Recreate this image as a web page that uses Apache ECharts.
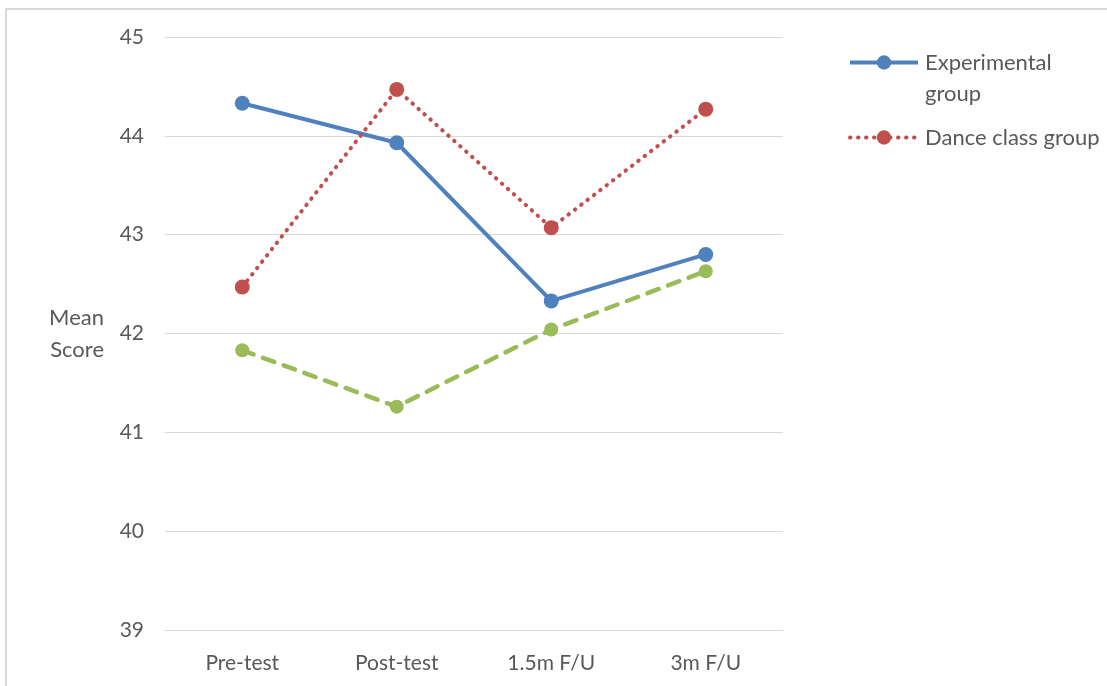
<!DOCTYPE html>
<html>
<head>
<meta charset="utf-8">
<script src="https://cdn.jsdelivr.net/npm/echarts@6/dist/echarts.min.js"></script>
<style>
  html, body { margin: 0; padding: 0; background: #fff; }
  #chart { width: 1107px; height: 686px; }
</style>
</head>
<body>
<div id="chart"></div>
<script>
// Time points and group means
const categories = ['Pre-test', 'Post-test', '1.5m F/U', '3m F/U'];
const experimental = [44.33, 43.93, 42.33, 42.80];
const danceClass = [42.47, 44.47, 43.07, 44.27];
const controlGroup = [41.83, 41.26, 42.04, 42.63];
const yTicks = [39, 40, 41, 42, 43, 44, 45];

const FONT = 'Lato';
const TEXT = '#595959';

const chart = echarts.init(document.getElementById('chart'));
chart.setOption({
  animation: false,
  textStyle: { fontFamily: FONT },
  graphic: [
    { type: 'rect', shape: { x: 5, y: 8, width: 1102, height: 2 }, style: { fill: '#d9d9d9' } },
    { type: 'rect', shape: { x: 5, y: 8, width: 2, height: 678 }, style: { fill: '#d9d9d9' } }
  ],
  grid: { left: 165, right: 324, top: 37, bottom: 56 },
  legend: [
    {
      data: ['Experimental group'],
      left: 848, top: 16, padding: 0,
      orient: 'vertical',
      itemWidth: 68, itemHeight: 18, itemGap: 0,
      lineStyle: { width: 4 },
      // blank leading line keeps the icon level with the first text line
      formatter: () => '\nExperimental\ngroup',
      textStyle: { color: TEXT, fontSize: 22, fontFamily: FONT, lineHeight: 31, padding: [0, 0, 0, 2] }
    },
    {
      data: ['Dance class group'],
      left: 848, top: 122, padding: 0,
      orient: 'vertical',
      itemWidth: 68, itemHeight: 18,
      lineStyle: { width: 4 },
      textStyle: { color: TEXT, fontSize: 22, fontFamily: FONT, lineHeight: 31, padding: [0, 0, 0, 2] }
    }
  ],
  xAxis: {
    type: 'category',
    data: categories,
    boundaryGap: true,
    axisLine: { show: true, lineStyle: { color: '#d9d9d9', width: 1 } },
    axisTick: { show: false },
    axisLabel: { color: TEXT, fontSize: 21, fontFamily: FONT, margin: 23 },
    splitLine: { show: false }
  },
  yAxis: {
    type: 'value',
    min: yTicks[0],
    max: yTicks[yTicks.length - 1],
    interval: 1,
    name: 'Mean\nScore',
    nameLocation: 'middle',
    nameRotate: 0,
    nameGap: 61,
    nameTextStyle: { color: TEXT, fontSize: 22, fontFamily: FONT, lineHeight: 32, align: 'right', padding: [4, 0, 0, 0] },
    axisLine: { show: false },
    axisTick: { show: false },
    axisLabel: { color: TEXT, fontSize: 21, fontFamily: FONT, margin: 21 },
    splitLine: { lineStyle: { color: '#d9d9d9', width: 1 } }
  },
  series: [
    {
      name: 'Experimental group',
      type: 'line',
      data: experimental,
      symbol: 'circle',
      symbolSize: 15,
      itemStyle: { color: '#4f81bd' },
      lineStyle: { color: '#4f81bd', width: 4 },
      z: 3
    },
    {
      name: 'Dance class group',
      type: 'line',
      data: danceClass,
      symbol: 'circle',
      symbolSize: 15,
      itemStyle: { color: '#c0504d' },
      lineStyle: { color: '#c0504d', width: 4, type: [0.5, 7.5], cap: 'round' },
      z: 4
    },
    {
      name: 'Control group',
      type: 'line',
      data: controlGroup,
      symbol: 'circle',
      symbolSize: 14,
      itemStyle: { color: '#9bbb59' },
      lineStyle: { color: '#9bbb59', width: 4.5, type: [12, 10], cap: 'round' },
      z: 2
    }
  ]
});
</script>
</body>
</html>
